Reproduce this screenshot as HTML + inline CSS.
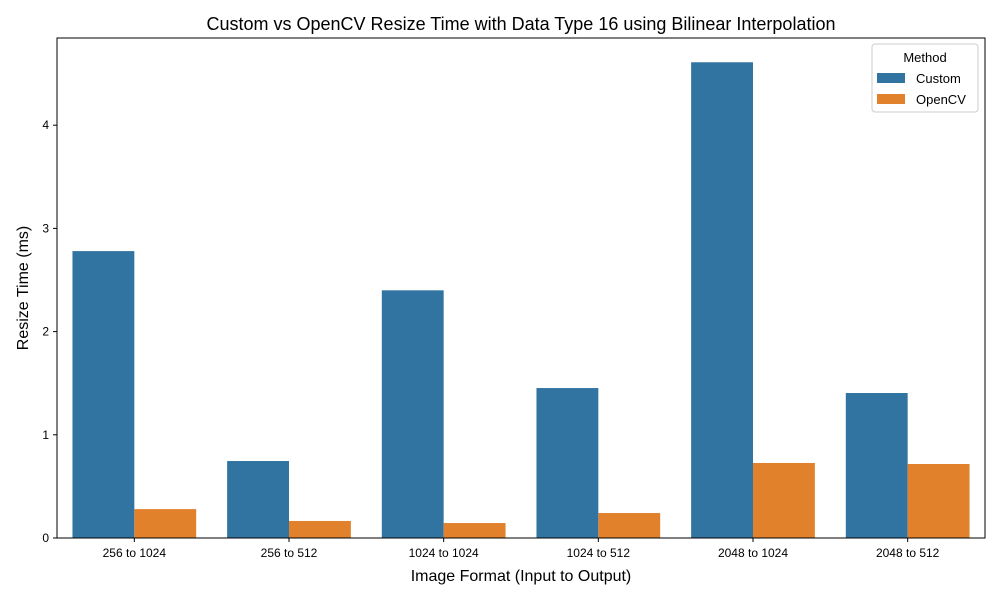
<!DOCTYPE html>
<html><head><meta charset="utf-8"><style>
body{margin:0;background:#fff;font-family:"Liberation Sans",sans-serif}
text{font-family:"Liberation Sans",sans-serif}
</style></head><body>
<svg id="chart" width="1000" height="600"></svg>
<script>
const categories=["256 to 1024","256 to 512","1024 to 1024","1024 to 512","2048 to 1024","2048 to 512"];
const customValues=[2.78,0.746,2.40,1.453,4.61,1.405];
const opencvValues=[0.28,0.165,0.145,0.242,0.727,0.717];
const yTicks=[0,1,2,3,4];
const seriesNames=["Custom","OpenCV"];
const colors=["#3274a1","#e1812c"];
const L=57,R=985,T=38,B=538,yMax=4.845;
const NS="http://www.w3.org/2000/svg";
const svg=document.getElementById('chart');
function y(v){return B-(v/yMax)*(B-T);}
const cw=(R-L)/categories.length;
function x(i){return L+cw*i;}
function mk(tag,attrs,txt){const e=document.createElementNS(NS,tag);for(const k in attrs)e.setAttribute(k,attrs[k]);if(txt!==undefined)e.textContent=txt;svg.appendChild(e);return e;}
const series=[customValues,opencvValues];
series.forEach((vals,s)=>{vals.forEach((v,i)=>{
 const bw=cw*0.4;
 const r=mk('rect',{x:x(i)+cw*0.1+bw*s,y:y(v),width:bw,height:B-y(v),fill:colors[s]});
 
 
});});
const ax=mk('rect',{x:L,y:T,width:R-L,height:B-T,fill:'none',stroke:'#000','stroke-width':1});


yTicks.forEach(t=>{
 mk('line',{x1:L-4,x2:L,y1:y(t),y2:y(t),stroke:'#000'});
 const tx=mk('text',{x:L-8,y:y(t)+4,'text-anchor':'end','font-size':12},t);
 
 
});
categories.forEach((c,i)=>{
 const cx=x(i)+cw/2;
 mk('line',{x1:cx,x2:cx,y1:B,y2:B+4,stroke:'#000'});
 const tx=mk('text',{x:cx,y:B+19,'text-anchor':'middle','font-size':12},c);
 
 
});
let e=mk('text',{x:521,y:30,'text-anchor':'middle','font-size':18},'Custom vs OpenCV Resize Time with Data Type 16 using Bilinear Interpolation');

e=mk('text',{x:521,y:581,'text-anchor':'middle','font-size':16},'Image Format (Input to Output)');

e=mk('text',{x:28,y:288,'text-anchor':'middle','font-size':16,transform:'rotate(-90 28 288)'},'Resize Time (ms)');

e=mk('rect',{x:872,y:44,width:106,height:68,rx:3,fill:'#fff',stroke:'#ccc'});

mk('text',{x:925,y:62,'text-anchor':'middle','font-size':13},'Method');
seriesNames.forEach((n,s)=>{
 const r=mk('rect',{x:877,y:73+s*21,width:28,height:10,fill:colors[s]});
 
 
 const t=mk('text',{x:916,y:83+s*21,'font-size':13},n);
 
 
});
</script>
</body></html>
